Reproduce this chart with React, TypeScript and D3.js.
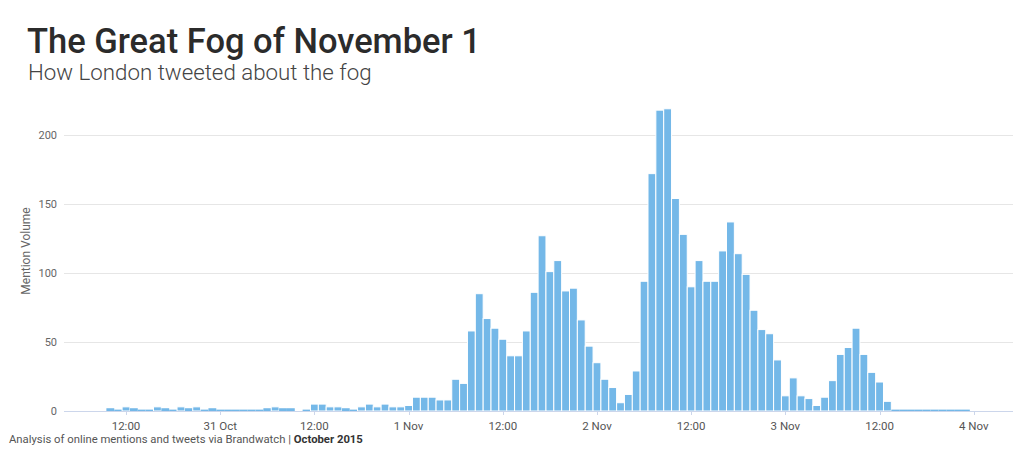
import React from "react";
import * as d3 from "d3";

// ---- data ----
const title = "The Great Fog of November 1";
const subtitle = "How London tweeted about the fog";
const yAxisTitle = "Mention Volume";
const footerText = "Analysis of online mentions and tweets via Brandwatch | ";
const footerBold = "October 2015";

// hourly buckets, first bucket = 30 Oct 2015 04:00
const firstHour = Date.UTC(2015, 9, 30, 4);
const mentionVolume = [
  0, 0, 0, 0, 0, 0,
  2, 1, 3, 2, 1, 1, 3, 2, 1, 3, 2, 3, 1, 2,
  1, 1, 1, 1, 1,
  1, 2, 3, 2, 2, 0, 1,
  5, 5, 3, 3, 2, 1, 3, 5, 3, 5, 3, 3,
  4, 10, 10, 10, 8, 8, 23, 20,
  58, 85, 67, 60, 52, 40, 40, 58, 86,
  127, 101, 109, 87, 89, 66, 47, 35, 23, 17, 6,
  12, 29, 94, 172, 218, 219, 154, 128, 90, 109, 94, 94, 116, 137, 114, 99, 73, 59, 56, 37,
  11, 24, 11, 9, 4, 10, 22, 41, 46, 60, 41, 28, 21, 7,
  1, 1, 1, 1, 1, 1, 1, 1, 1, 1,
];

const firstTick = Date.UTC(2015, 9, 30, 12);
const xTickLabels = ["12:00", "31 Oct", "12:00", "1 Nov", "12:00", "2 Nov", "12:00", "3 Nov", "12:00", "4 Nov"];
const yTicks = [0, 50, 100, 150, 200];

const HOUR = 3600 * 1000;
const FONT = "Roboto, 'Noto Sans', sans-serif";

export default function App() {
  const W = 1024;
  const H = 458;
  const x = d3
    .scaleUtc()
    .domain([new Date(firstTick - 7.9 * HOUR), new Date(firstTick + 113 * HOUR)])
    .range([64, 1013]);
  const y = d3.scaleLinear().domain([0, 200]).range([411, 135]);
  const bw = x(new Date(firstTick + HOUR)) - x(new Date(firstTick));

  return (
    <div style={{ position: "absolute", left: 0, top: 0 }}>
      <svg width={W} height={H} style={{ display: "block", fontFamily: FONT }}>
        <rect width={W} height={H} fill="#fff" />
        <text x={27} y={52.5} fontSize={34.5} fontWeight={500} fill="#2b2b2b">
          {title}
        </text>
        <text x={28} y={80} fontSize={22.3} fontWeight={300} fill="#444">
          {subtitle}
        </text>

        {/* gridlines */}
        {yTicks.filter((v) => v > 0).map((v) => (
          <line key={v} x1={64} x2={1013} y1={Math.round(y(v)) + 0.5} y2={Math.round(y(v)) + 0.5} stroke="#e6e6e6" />
        ))}
        {yTicks.map((v) => (
          <text key={"yl" + v} x={57} y={y(v) + 4} fontSize={11} fill="#666" textAnchor="end">
            {v}
          </text>
        ))}
        <text
          transform={`translate(29.5, 251) rotate(-90)`}
          fontSize={12}
          fill="#666"
          textAnchor="middle"
        >
          {yAxisTitle}
        </text>

        {/* bars */}
        {mentionVolume.map((v, i) => {
          const t = new Date(firstHour + i * HOUR);
          const cx = x(t);
          const top = y(v);
          return (
            <rect
              key={i}
              x={cx - bw / 2}
              width={bw}
              y={top}
              height={Math.max(0, y(0) - top)}
              fill="#74b8e8"
              stroke="#ffffff"
              strokeWidth={v > 2 ? 1 : 0}
            />
          );
        })}

        {/* x axis */}
        <line x1={64} x2={1013} y1={411.5} y2={411.5} stroke="#ccd6eb" />
        {xTickLabels.map((lab, i) => {
          const tx = x(new Date(firstTick + i * 12 * HOUR));
          return (
            <g key={"xt" + i}>
              <line x1={Math.round(tx) + 0.5} x2={Math.round(tx) + 0.5} y1={411} y2={415} stroke="#ccd6eb" />
              <text x={tx} y={430} fontSize={11.5} fill="#555" textAnchor="middle">
                {lab}
              </text>
            </g>
          );
        })}

        <text x={9} y={443} fontSize={11.3} fill="#555">
          {footerText}
          <tspan fontWeight={700} fill="#333">
            {footerBold}
          </tspan>
        </text>
      </svg>
    </div>
  );
}
